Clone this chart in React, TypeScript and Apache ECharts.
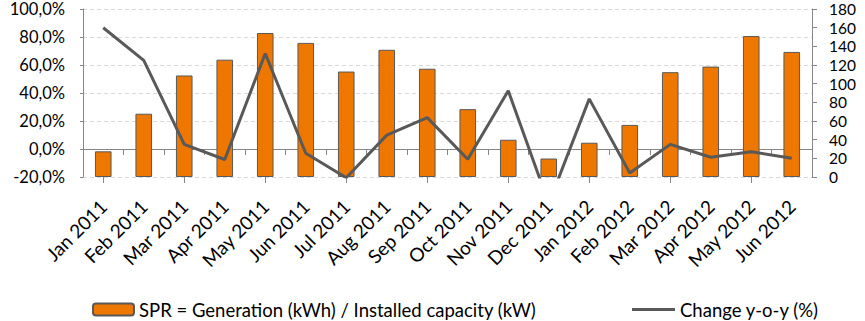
import React, { useEffect, useRef } from "react";
import * as echarts from "echarts";

const categories = [
  "Jan 2011", "Feb 2011", "Mar 2011", "Apr 2011", "May 2011", "Jun 2011",
  "Jul 2011", "Aug 2011", "Sep 2011", "Oct 2011", "Nov 2011", "Dec 2011",
  "Jan 2012", "Feb 2012", "Mar 2012", "Apr 2012", "May 2012", "Jun 2012",
];
const sprValues = [27.5, 67.8, 108.8, 125.7, 154.3, 143.7, 113, 136.3, 116, 72.7, 39.9, 19.8, 36.7, 55.8, 112.3, 118.3, 151, 134];
const changeYoY = [86.6, 63.3, 3.3, -7.5, 68.2, -3, -20.5, 9.9, 22.4, -7.3, 41.6, -39, 35.8, -17.2, 3.3, -5.9, -1.9, -6.6];
const barName = "SPR = Generation (kWh) / Installed capacity (kW)";
const lineName = "Change y-o-y (%)";

const FONT = "Lato";

export default function App() {
  const ref = useRef<HTMLDivElement>(null);
  useEffect(() => {
    const chart = echarts.init(ref.current!, null, { renderer: "svg" });
    chart.setOption({
      animation: false,
      textStyle: { fontFamily: FONT },
      grid: { left: 83, right: 53, top: 9, bottom: 144 },
      legend: [
        {
          data: [barName],
          left: 92,
          top: 300,
          padding: 0,
          itemWidth: 41,
          itemHeight: 12,
          itemGap: 0,
          textStyle: { fontFamily: FONT, fontSize: 18.5, color: "#000", lineHeight: 18 },
        },
        {
          data: [{ name: lineName, icon: "rect", itemStyle: { color: "#595959", borderWidth: 0 } }],
          left: 632,
          top: 300,
          padding: 0,
          itemWidth: 43,
          itemHeight: 3,
          textStyle: { fontFamily: FONT, fontSize: 18.5, color: "#000", lineHeight: 18 },
        },
      ],
      xAxis: [
        {
          type: "category",
          data: categories,
          boundaryGap: true,
          axisLine: { lineStyle: { color: "#868686", width: 1 } },
          axisTick: { show: true, length: 6, lineStyle: { color: "#868686" } },
          axisLabel: {
            rotate: 45,
            interval: 0,
            margin: 26,
            fontSize: 19,
            fontFamily: FONT,
            color: "#000",
          },
        },
        {
          type: "category",
          data: categories,
          position: "bottom",
          boundaryGap: true,
          axisLine: { show: false },
          axisTick: { show: true, alignWithLabel: true, length: 6, lineStyle: { color: "#868686" } },
          axisLabel: { show: false },
        },
      ],
      yAxis: [
        {
          type: "value",
          min: -20,
          max: 100,
          interval: 20,
          axisLine: { show: true, lineStyle: { color: "#868686" } },
          axisTick: { show: true, length: 3, lineStyle: { color: "#868686" } },
          axisLabel: {
            fontSize: 16.5,
            lineHeight: 14,
            fontFamily: FONT,
            color: "#000",
            margin: 18,
            formatter: (v: number) => v.toFixed(1).replace(".", ",") + "%",
          },
          splitLine: { show: true, lineStyle: { color: "#D9D9D9", type: [4, 3], width: 1 } },
        },
        {
          type: "value",
          min: 0,
          max: 180,
          interval: 20,
          position: "right",
          axisLine: { show: true, lineStyle: { color: "#868686" } },
          axisTick: { show: true, length: 5, lineStyle: { color: "#868686" } },
          axisLabel: { fontSize: 15.5, lineHeight: 14, fontFamily: FONT, color: "#000", margin: 17 },
          splitLine: { show: false },
        },
      ],
      series: [
        {
          name: barName,
          type: "bar",
          xAxisIndex: 0,
          yAxisIndex: 1,
          data: sprValues,
          barWidth: "41%",
          itemStyle: { color: "#EE7700", borderColor: "#595959", borderWidth: 1 },
        },
        {
          name: lineName,
          type: "line",
          xAxisIndex: 0,
          yAxisIndex: 0,
          data: changeYoY,
          symbol: "none",
          clip: true,
          lineStyle: { color: "#595959", width: 3 },
          itemStyle: { color: "#595959" },
        },
      ],
    });
    return () => chart.dispose();
  }, []);
  return <div ref={ref} style={{ width: 865, height: 321, position: "absolute", left: 0, top: 0 }} />;
}
